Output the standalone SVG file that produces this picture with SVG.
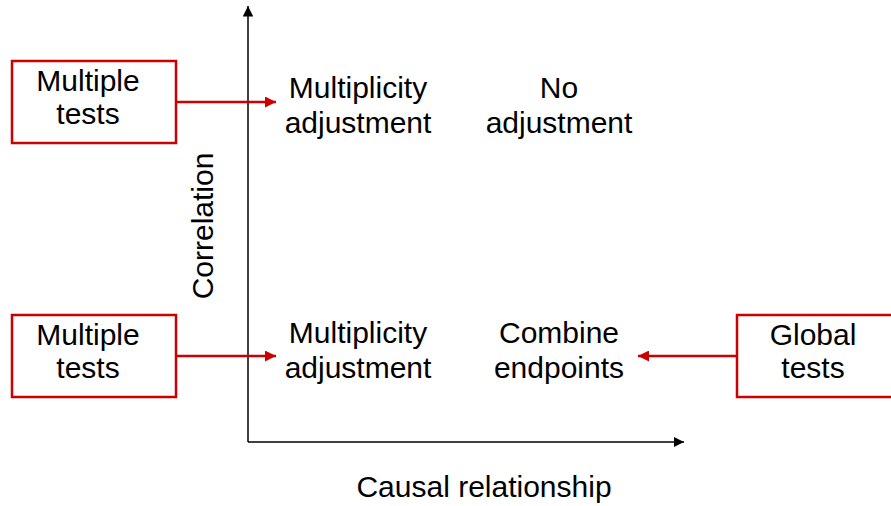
<svg xmlns="http://www.w3.org/2000/svg" width="891" height="506" viewBox="0 0 891 506">
<style>
text{font-family:"Liberation Sans",Arial,sans-serif;font-size:30px;fill:#000;text-anchor:middle}
.box{fill:#fff;stroke:#cc0000;stroke-width:2.5}
.red{stroke:#cc0000;stroke-width:2.5;fill:none}
.ax{stroke:#000;stroke-width:1.5;fill:none}
</style>
<defs>
<marker id="ra" viewBox="0 0 10 10" refX="10" refY="5" markerWidth="4.4" markerHeight="4.4" markerUnits="strokeWidth" orient="auto"><path d="M0,0L10,5L0,10z" fill="#cc0000"/></marker>
<marker id="ka" viewBox="0 0 10 10" refX="10" refY="5" markerWidth="7" markerHeight="7" markerUnits="strokeWidth" orient="auto"><path d="M0,0L10,5L0,10z" fill="#000"/></marker>
</defs>
<g id="axes">
<line class="ax" x1="248" y1="442" x2="248" y2="6" marker-end="url(#ka)"/>
<line class="ax" x1="248" y1="442" x2="684" y2="442" marker-end="url(#ka)"/>
<text x="484" y="497">Causal relationship</text>
<text transform="translate(213,226) rotate(-90)">Correlation</text>
</g>
<g id="connectors">
<line class="red" x1="176" y1="102" x2="276" y2="102" marker-end="url(#ra)"/>
<line class="red" x1="176" y1="356" x2="276" y2="356" marker-end="url(#ra)"/>
<line class="red" x1="737" y1="356" x2="638" y2="356" marker-end="url(#ra)"/>
</g>
<g id="mt1"><rect class="box" x="12" y="61" width="164" height="82"/><text x="88" y="91">Multiple</text><text x="88" y="124">tests</text></g>
<g id="mt2"><rect class="box" x="12" y="315" width="164" height="82"/><text x="88" y="345">Multiple</text><text x="88" y="378">tests</text></g>
<g id="gt"><rect class="box" x="737" y="315" width="164" height="82"/><text x="813" y="345">Global</text><text x="813" y="378">tests</text></g>
<g id="ma1"><text x="358" y="98">Multiplicity</text><text x="358" y="133">adjustment</text></g>
<g id="na"><text x="559" y="98">No</text><text x="559" y="133">adjustment</text></g>
<g id="ma2"><text x="358" y="343">Multiplicity</text><text x="358" y="378">adjustment</text></g>
<g id="ce"><text x="559" y="343">Combine</text><text x="559" y="378">endpoints</text></g>
</svg>
